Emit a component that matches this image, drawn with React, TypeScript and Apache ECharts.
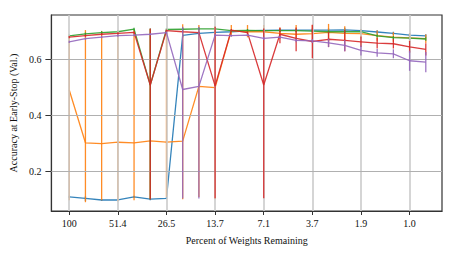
import React, { useEffect, useRef } from "react";
import * as echarts from "echarts";

const tickLabels = ["100", "51.4", "26.5", "13.7", "7.1", "3.7", "1.9", "1.0"];
const tickStep = 3;
const yTicks = [0.2, 0.4, 0.6];

const blue = [0.108, 0.103, 0.097, 0.097, 0.108, 0.100, 0.103, 0.687, 0.694, 0.698, 0.700, 0.703, 0.705, 0.706, 0.706, 0.706, 0.706, 0.707, 0.704, 0.699, 0.694, 0.688, 0.685];
const blueLo = [0.104, 0.093, 0.094, 0.094, 0.104, 0.096, 0.100, 0.680, 0.688, 0.692, 0.694, 0.698, 0.700, 0.700, 0.700, 0.700, 0.700, 0.700, 0.698, 0.693, 0.688, 0.682, 0.679];
const blueHi = [0.112, 0.110, 0.100, 0.100, 0.112, 0.104, 0.106, 0.694, 0.700, 0.704, 0.706, 0.708, 0.710, 0.712, 0.712, 0.712, 0.712, 0.714, 0.710, 0.705, 0.700, 0.694, 0.691];

const orange = [0.491, 0.302, 0.299, 0.304, 0.302, 0.309, 0.304, 0.308, 0.504, 0.500, 0.704, 0.700, 0.700, 0.694, 0.691, 0.693, 0.698, 0.694, 0.693, 0.686, 0.681, 0.678, 0.675];
const orangeLo = [0.096, 0.089, 0.096, 0.092, 0.096, 0.100, 0.108, 0.100, 0.108, 0.100, 0.684, 0.680, 0.680, 0.675, 0.672, 0.662, 0.668, 0.668, 0.676, 0.668, 0.664, 0.662, 0.660];
const orangeHi = [0.685, 0.706, 0.703, 0.703, 0.706, 0.710, 0.706, 0.727, 0.724, 0.720, 0.724, 0.724, 0.724, 0.714, 0.724, 0.724, 0.728, 0.720, 0.709, 0.704, 0.698, 0.694, 0.690];

const green = [0.685, 0.692, 0.697, 0.700, 0.709, 0.509, 0.708, 0.709, 0.710, 0.710, 0.704, 0.705, 0.704, 0.704, 0.704, 0.702, 0.700, 0.700, 0.700, 0.685, 0.679, 0.677, 0.674];
const greenLo = [0.680, 0.687, 0.692, 0.695, 0.704, 0.100, 0.703, 0.704, 0.705, 0.705, 0.699, 0.700, 0.699, 0.699, 0.699, 0.697, 0.695, 0.695, 0.694, 0.679, 0.673, 0.671, 0.668];
const greenHi = [0.690, 0.697, 0.702, 0.705, 0.714, 0.712, 0.713, 0.714, 0.715, 0.715, 0.709, 0.710, 0.709, 0.709, 0.709, 0.707, 0.705, 0.705, 0.706, 0.691, 0.685, 0.683, 0.680];

const red = [0.681, 0.686, 0.691, 0.694, 0.698, 0.509, 0.704, 0.700, 0.697, 0.506, 0.706, 0.697, 0.509, 0.691, 0.676, 0.665, 0.673, 0.669, 0.664, 0.659, 0.657, 0.646, 0.637];
const redLo = [0.677, 0.682, 0.687, 0.690, 0.694, 0.100, 0.700, 0.696, 0.693, 0.103, 0.702, 0.693, 0.103, 0.659, 0.630, 0.605, 0.645, 0.630, 0.645, 0.640, 0.640, 0.625, 0.615];
const redHi = [0.685, 0.690, 0.695, 0.698, 0.702, 0.712, 0.708, 0.704, 0.701, 0.718, 0.710, 0.701, 0.712, 0.715, 0.715, 0.725, 0.700, 0.705, 0.683, 0.678, 0.674, 0.667, 0.659];

const purple = [0.664, 0.675, 0.681, 0.686, 0.688, 0.691, 0.697, 0.493, 0.504, 0.688, 0.686, 0.688, 0.676, 0.681, 0.669, 0.667, 0.660, 0.651, 0.633, 0.624, 0.621, 0.596, 0.591];
const purpleLo = [0.660, 0.671, 0.677, 0.682, 0.684, 0.687, 0.693, 0.102, 0.102, 0.684, 0.682, 0.684, 0.670, 0.676, 0.662, 0.660, 0.645, 0.630, 0.615, 0.610, 0.605, 0.560, 0.555];
const purpleHi = [0.668, 0.679, 0.685, 0.690, 0.692, 0.695, 0.701, 0.718, 0.718, 0.692, 0.690, 0.692, 0.682, 0.686, 0.676, 0.674, 0.675, 0.670, 0.651, 0.638, 0.637, 0.632, 0.627];

const seriesDefs = [
  { name: "s1", color: "#1f77b4", vals: blue, lo: blueLo, hi: blueHi },
  { name: "s2", color: "#ff7f0e", vals: orange, lo: orangeLo, hi: orangeHi },
  { name: "s3", color: "#2ca02c", vals: green, lo: greenLo, hi: greenHi },
  { name: "s4", color: "#d62728", vals: red, lo: redLo, hi: redHi },
  { name: "s5", color: "#9467bd", vals: purple, lo: purpleLo, hi: purpleHi },
];

const FONT = "'Liberation Serif', 'DejaVu Serif', serif";

export default function App() {
  const ref = useRef<HTMLDivElement>(null);
  useEffect(() => {
    if (!ref.current) return;
    const chart = echarts.init(ref.current, null, { renderer: "svg" });
    const tickIdx = tickLabels.map((_, k) => k * tickStep);
    const series: any[] = [
      {
        type: "line",
        name: "vgrid",
        data: [],
        z: 1,
        silent: true,
        markLine: {
          silent: true,
          symbol: ["none", "none"],
          label: { show: false },
          lineStyle: { color: "#cbcbcb", width: 1.6, type: "solid" },
          data: tickIdx.map((t) => ({ xAxis: t })),
        },
      },
      {
        type: "line",
        name: "hgrid",
        data: [],
        z: 1,
        silent: true,
        markLine: {
          silent: true,
          symbol: ["none", "none"],
          label: { show: false },
          lineStyle: { color: "#b0b0b0", width: 1, type: "solid" },
          data: yTicks.map((t) => ({ yAxis: t })),
        },
      },
    ];
    seriesDefs.forEach((s, k) => {
      series.push({
        type: "line",
        name: s.name,
        data: s.vals.map((v, i) => [i, v]),
        symbol: "none",
        showSymbol: false,
        lineStyle: { color: s.color, width: 1.3, opacity: 0.9 },
        itemStyle: { color: s.color },
        z: 2 + k,
      });
      series.push({
        type: "custom",
        name: s.name + "err",
        data: s.vals.map((_, i) => [i, s.lo[i], s.hi[i]]),
        encode: { x: 0, y: [1, 2] },
        z: 2 + k,
        renderItem: (params: any, api: any) => {
          const x = api.value(0);
          const p1 = api.coord([x, api.value(1)]);
          const p2 = api.coord([x, api.value(2)]);
          return {
            type: "line",
            shape: { x1: p1[0], y1: p1[1], x2: p2[0], y2: p2[1] },
            style: { stroke: s.color, lineWidth: 1.3, opacity: 0.9 },
          };
        },
      });
    });
    chart.setOption({
      animation: false,
      grid: { left: 47, top: 15, width: 395, height: 196, show: true, borderColor: "#333", borderWidth: 1.2, backgroundColor: "transparent" },
      xAxis: {
        type: "value",
        min: -1.1,
        max: 23,
        name: "Percent of Weights Remaining",
        nameLocation: "middle",
        nameGap: 24,
        nameTextStyle: { fontFamily: FONT, fontSize: 10, color: "#111" },
        axisLine: { show: true, onZero: false, lineStyle: { color: "#333", width: 1.2 } },
        axisTick: { show: true, customValues: tickIdx, length: 4, lineStyle: { color: "#333" } },
        axisLabel: {
          customValues: tickIdx,
          formatter: (v: number) => tickLabels[Math.round(v / tickStep)] ?? "",
          fontFamily: FONT,
          fontSize: 10,
          color: "#111",
          margin: 7,
        },
        splitLine: { show: false },
      },
      yAxis: {
        type: "value",
        min: 0.0575,
        max: 0.76,
        name: "Accuracy at Early-Stop (Val.)",
        nameLocation: "middle",
        nameGap: 30,
        nameTextStyle: { fontFamily: FONT, fontSize: 10, color: "#111" },
        axisLine: { show: true, onZero: false, lineStyle: { color: "#333", width: 1.2 } },
        axisTick: { show: true, customValues: yTicks, length: 6, lineStyle: { color: "#333" } },
        axisLabel: {
          customValues: yTicks,
          formatter: (v: number) => v.toFixed(1),
          fontFamily: FONT,
          fontSize: 10,
          color: "#111",
          margin: 10,
        },
        splitLine: { show: false },
      },
      series,
    });
    return () => chart.dispose();
  }, []);
  return <div ref={ref} style={{ width: 457, height: 255, position: "absolute", left: 0, top: 0 }} />;
}
